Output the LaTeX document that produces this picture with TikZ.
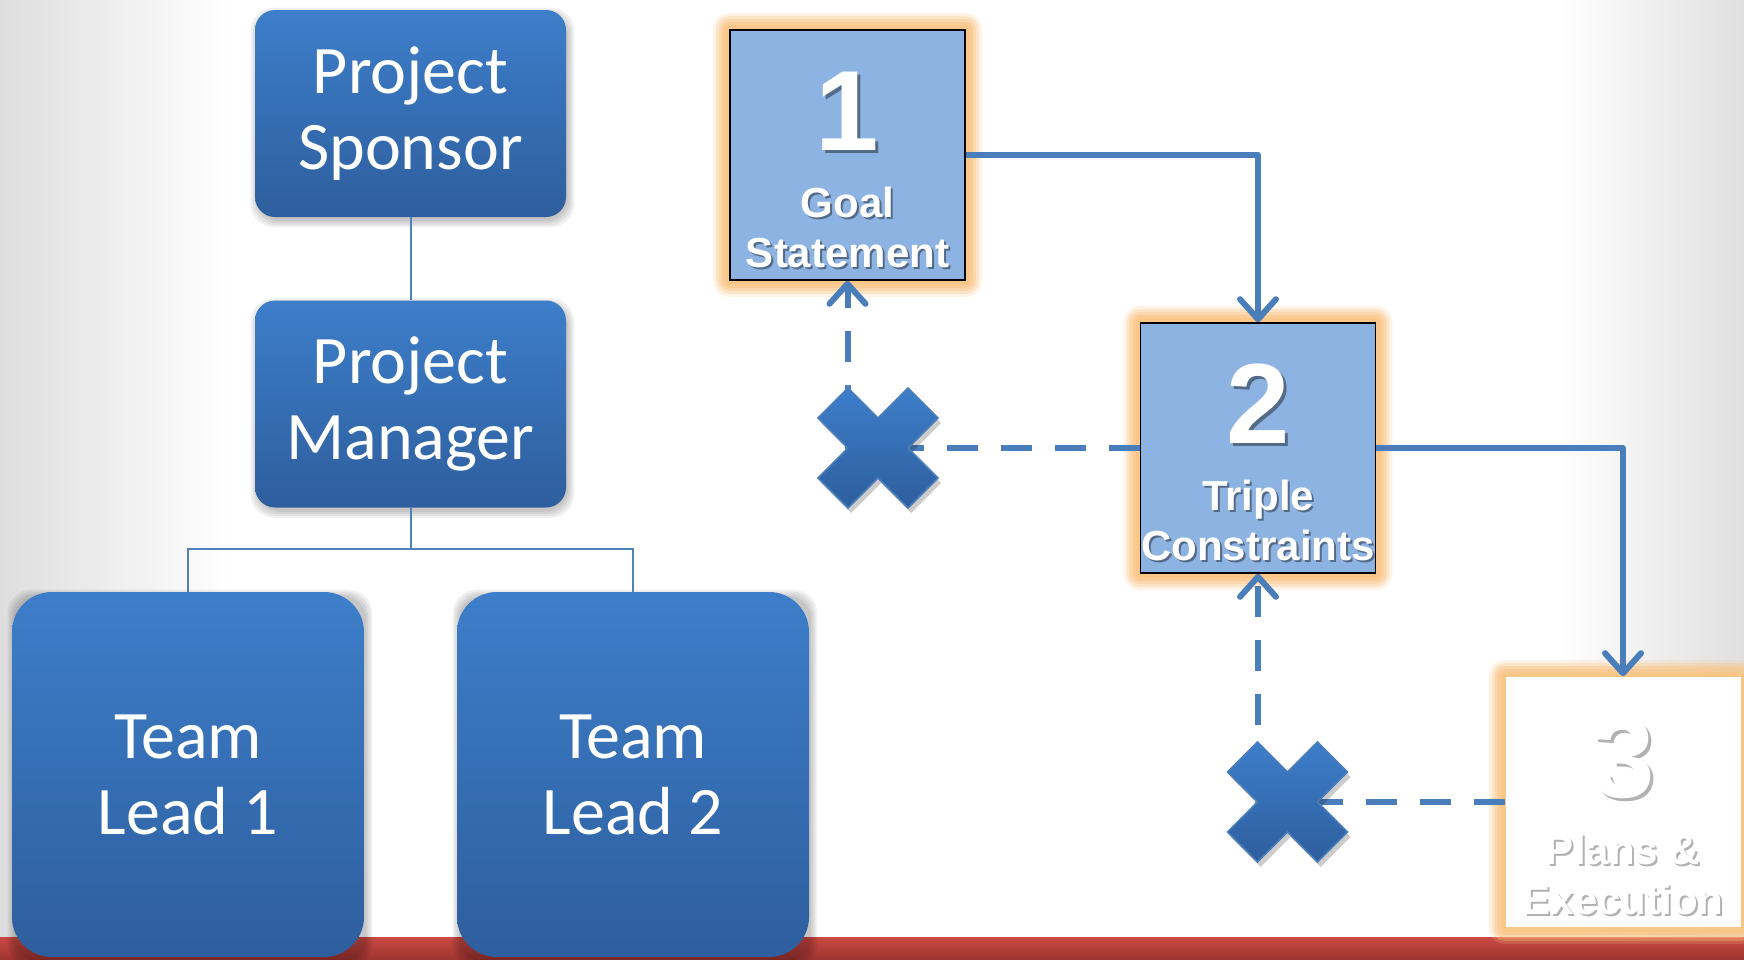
\documentclass[tikz,border=0pt]{standalone}
\usepackage{fontspec}
\setmainfont{Carlito}
\newfontfamily\headfont{Liberation Sans}
\usetikzlibrary{arrows.meta}
\definecolor{bluetop}{RGB}{61,126,202}
\definecolor{bluebot}{RGB}{46,94,157}
\definecolor{linkblue}{RGB}{74,126,187}
\definecolor{orgline}{RGB}{79,129,189}
\definecolor{stepfill}{RGB}{141,179,226}
\definecolor{glowc}{RGB}{250,196,130}
\definecolor{redtop}{RGB}{201,74,68}
\definecolor{redbot}{RGB}{158,52,48}
\definecolor{edgegray}{RGB}{222,222,222}
\pgfdeclarelayer{back}
\pgfdeclarelayer{shade}
\pgfsetlayers{back,shade,main}
\tikzset{
  orgbox/.style={rounded corners=10pt, top color=bluetop, bottom color=bluebot,
    text=white, align=center, inner sep=0pt, font=\fontsize{34}{38}\selectfont,
    minimum width=155.5pt, minimum height=103.5pt},
  leadbox/.style={orgbox, rounded corners=20pt, minimum width=176pt, minimum height=182.5pt},
  orglink/.style={draw=orgline, line width=1pt},
  stepbox/.style={draw=black, line width=0.8pt, fill=stepfill, inner sep=0pt,
    minimum width=117.5pt, minimum height=125pt},
  laststep/.style={stepbox, draw=none, fill=white},
  numtext/.style={font=\headfont\bfseries\fontsize{57}{57}\selectfont, text=white,
    inner sep=0pt, anchor=base},
  lbltext/.style={font=\headfont\bfseries\fontsize{21}{25}\selectfont, text=white,
    align=center, inner sep=0pt, anchor=south},
  txtshadow/.style={text=black, text opacity=0.4},
  txtshadowlight/.style={text=black, text opacity=0.3},
  flow/.style={draw=linkblue, line width=3pt, line join=round,
    -{Straight Barb[length=10pt,width=18pt,round]}},
  blocked/.style={flow, dash pattern=on 15.5pt off 11.5pt},
  crossmark/.pic={
    \fill[black, opacity=0.2, shift={(3,5)}]
      (-30,-60) -- (0,-30) -- (30,-60) -- (60,-30) -- (30,0) -- (60,30) --
      (30,60) -- (0,30) -- (-30,60) -- (-60,30) -- (-30,0) -- (-60,-30) -- cycle;
    \path[top color=bluetop, bottom color=bluebot, draw=linkblue, line width=0.8pt]
      (-30,-60) -- (0,-30) -- (30,-60) -- (60,-30) -- (30,0) -- (60,30) --
      (30,60) -- (0,30) -- (-30,60) -- (-60,30) -- (-30,0) -- (-60,-30) -- cycle;
  }
}
\begin{document}
\begin{tikzpicture}[x=0.5pt, y=-0.5pt]
\useasboundingbox (0,0) rectangle (1744,959);

% page background
\begin{pgfonlayer}{back}
  \fill[white] (0,0) rectangle (1744,959);
  \shade[left color=edgegray, right color=white] (0,0) rectangle (230,959);
  \shade[left color=white, right color=edgegray!95] (1560,0) rectangle (1744,959);
  \shade[top color=redtop, bottom color=redbot] (0,937) rectangle (1744,959);
\end{pgfonlayer}

% organisation chart
\node[orgbox] (ps) at (410.5,113.5) {Project\\Sponsor};
\node[orgbox] (pm) at (410.5,404) {Project\\Manager};
\node[leadbox] (tl1) at (188,774.5) {Team\\Lead 1};
\node[leadbox] (tl2) at (633,774.5) {Team\\Lead 2};
\coordinate (split) at (410.5,549);
\draw[orglink] (ps.south) -- (pm.north);
\draw[orglink] (pm.south) -- (split) -| (tl1.north);
\draw[orglink] (split) -| (tl2.north);

\begin{pgfonlayer}{shade}
  \foreach \n in {ps,pm,tl1,tl2}{
    \foreach \e in {0,2,4,6}{
      \fill[black, opacity=0.06, rounded corners=12pt]
        ([shift={(-\e+2,-\e+4)}]\n.north west) rectangle ([shift={(\e+2,\e+4)}]\n.south east);
    }
  }
\end{pgfonlayer}

% process steps
\node[stepbox] (b1) at (847.5,155) {};
\node[stepbox] (b2) at (1258,448) {};
\node[laststep] (b3) at (1623,802) {};

\begin{pgfonlayer}{shade}
  \foreach \n in {b1,b2,b3}{
    \foreach \e/\o in {16/0.2,13/0.3,10/0.4,7/0.5,4/0.6}{
      \fill[glowc, opacity=\o, rounded corners=\e*0.5pt]
        ([shift={(-\e,-\e)}]\n.north west) rectangle ([shift={(\e,\e)}]\n.south east);
    }
  }
\end{pgfonlayer}

% step captions with their drop shadows
\node[numtext, txtshadow] (b1nums) at (850.5,153) {1};
\node[lbltext, txtshadow] (b1lbls) at (849.5,270) {Goal\\Statement};
\node[numtext, txtshadow] (b2nums) at (1261,446) {2};
\node[lbltext, txtshadow] (b2lbls) at (1260,563) {Triple\\Constraints};
\node[numtext, txtshadowlight] (b3nums) at (1626,800) {3};
\node[lbltext, txtshadowlight] (b3lbls) at (1625,917) {Plans \&\\Execution};

\node[numtext] (b1num) at (847.5,150) {1};
\node[lbltext] (b1lbl) at (847.5,268) {Goal\\Statement};
\node[numtext] (b2num) at (1258,443) {2};
\node[lbltext] (b2lbl) at (1258,561) {Triple\\Constraints};
\node[numtext] (b3num) at (1623,797) {3};
\node[lbltext] (b3lbl) at (1623,915) {Plans \&\\Execution};

% connectors
\draw[flow] (b1.east) -| (b2.north);
\draw[flow] (b2.east) -| (b3.north);
\draw[blocked] (b2.west) -| (b1.south);
\draw[blocked] (b3.west) -| (b2.south);

% blocked paths
\pic at (878,448) {crossmark};
\pic at (1287.5,802) {crossmark};
\end{tikzpicture}
\end{document}
